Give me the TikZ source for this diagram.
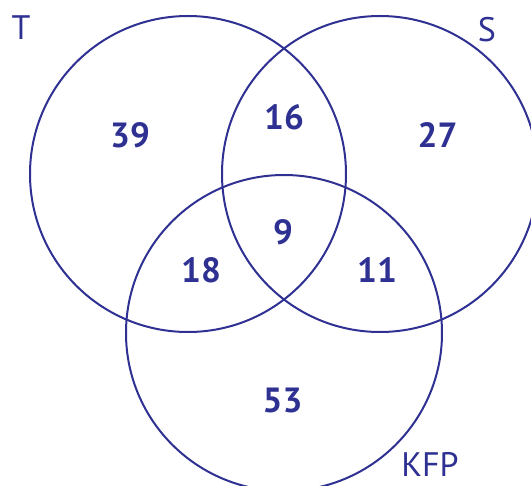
\documentclass[tikz,border=0pt]{standalone}
\usepackage{fontspec}
\setmainfont{PT Sans}
\definecolor{vennblue}{RGB}{46,49,146}
\begin{document}
\begin{tikzpicture}[x=1pt,y=-1pt,
  ring/.style={draw=vennblue,line width=2pt},
  count/.style={text=vennblue,inner sep=0pt,font=\fontsize{35}{40}\selectfont\bfseries},
  setname/.style={text=vennblue,inner sep=0pt,font=\fontsize{34}{40}\selectfont}]
  \useasboundingbox (0,0) rectangle (531,486);
  \clip (0,0) rectangle (531,486);
  % the three sets
  \draw[ring] (188,174) circle[radius=158];
  \draw[ring] (380,174) circle[radius=158];
  \draw[ring] (284,333) circle[radius=158];
  % set names
  \node[setname] (nT) at (21,28) {T};
  \node[setname] (nS) at (487,30) {S};
  \node[setname] (nK) at (430,464) {KFP};
  % region counts
  \node[count] (c39) at (130,135.5) {39};
  \node[count] (c27) at (437.5,135.5) {27};
  \node[count] (c16) at (284,117.5) {16};
  \node[count] (c9) at (283,232.5) {9};
  \node[count] (c18) at (201,270) {18};
  \node[count] (c11) at (377,270) {11};
  \node[count] (c53) at (282.5,400.5) {53};
\end{tikzpicture}
\end{document}
